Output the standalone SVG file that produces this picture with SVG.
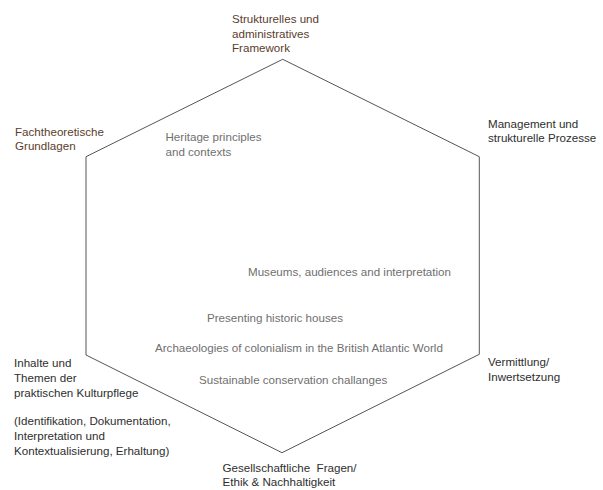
<svg xmlns="http://www.w3.org/2000/svg" width="603" height="490" viewBox="0 0 603 490">
<style>
text{font-family:"Liberation Sans",Arial,sans-serif;font-size:11.6px;white-space:pre}
.brown{fill:#5a3d2c}
.dark{fill:#2e2e2e}
.inner{fill:#6f6f6f}
.edge{fill:none;stroke:#555;stroke-width:1}
</style>
<rect width="603" height="490" fill="#fff"/>
<g id="connectors">
<polygon class="edge" points="282.7,59.3 479.3,156.7 479.3,354.3 282,452.7 86,355 86,156.7"/>
</g>
<g id="node-top"><text class="brown"><tspan x="232" y="23">Strukturelles und</tspan><tspan x="232" y="37.5">administratives</tspan><tspan x="232" y="52">Framework</tspan></text></g>
<g id="node-upper-left"><text class="brown"><tspan x="15" y="135.5">Fachtheoretische</tspan><tspan x="15" y="150.3">Grundlagen</tspan></text></g>
<g id="node-upper-right"><text class="dark"><tspan x="488" y="127.5">Management und</tspan><tspan x="488" y="142.3">strukturelle Prozesse</tspan></text></g>
<g id="node-lower-right"><text class="dark"><tspan x="488" y="366">Vermittlung/</tspan><tspan x="488" y="381">Inwertsetzung</tspan></text></g>
<g id="node-lower-left"><text class="dark"><tspan x="14" y="366.5">Inhalte und</tspan><tspan x="14" y="381.5">Themen der</tspan><tspan x="14" y="396.5">praktischen Kulturpflege</tspan><tspan x="14" y="425">(Identifikation, Dokumentation,</tspan><tspan x="14" y="440">Interpretation und</tspan><tspan x="14" y="455">Kontextualisierung, Erhaltung)</tspan></text></g>
<g id="node-bottom"><text class="dark"><tspan x="222.5" y="471.5">Gesellschaftliche  Fragen/</tspan><tspan x="222.5" y="486.3">Ethik &amp; Nachhaltigkeit</tspan></text></g>
<g id="inner-heritage"><text class="inner"><tspan x="165.5" y="140.5">Heritage principles</tspan><tspan x="165.5" y="155.5">and contexts</tspan></text></g>
<g id="inner-museums"><text class="inner" x="248" y="276">Museums, audiences and interpretation</text></g>
<g id="inner-houses"><text class="inner" x="207" y="322.3">Presenting historic houses</text></g>
<g id="inner-archaeologies"><text class="inner" x="155" y="351.7">Archaeologies of colonialism in the British Atlantic World</text></g>
<g id="inner-sustainable"><text class="inner" x="199" y="384.3">Sustainable conservation challanges</text></g>
</svg>
